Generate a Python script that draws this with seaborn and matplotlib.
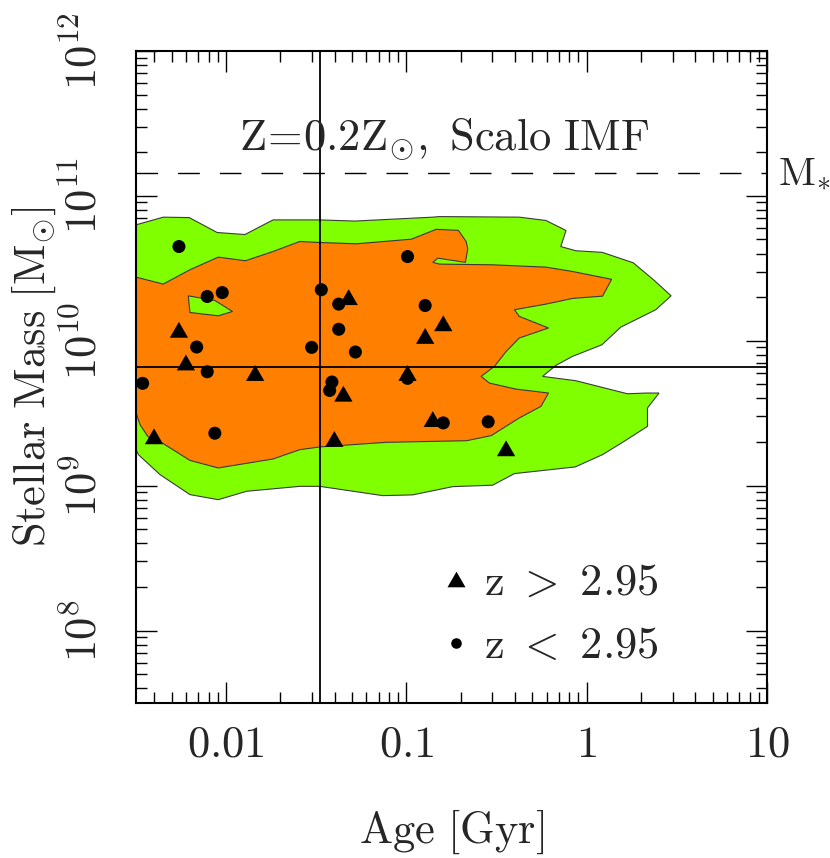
import numpy as np
import matplotlib.pyplot as plt
import seaborn as sns
from matplotlib.lines import Line2D
from matplotlib.ticker import NullFormatter

# galaxias con z > 2.95 (triangulos)
age_hiz = [0.0478, 0.160, 0.127, 0.00547, 0.00598, 0.01448, 0.1014, 0.0447, 0.140, 0.00398, 0.0398, 0.357]
mass_hiz = [2.0e10, 1.32e10, 1.08e10, 1.19e10, 7.08e9, 5.99e9, 5.99e9, 4.31e9, 2.88e9, 2.19e9, 2.10e9, 1.81e9]

# galaxias con z < 2.95 (circulos)
age_loz = [0.00547, 0.1014, 0.00785, 0.00951, 0.0337, 0.0421, 0.127, 0.0421, 0.00686, 0.0298,
           0.0521, 0.00785, 0.00344, 0.0386, 0.0375, 0.1014, 0.00865, 0.160, 0.284]
mass_loz = [4.47e10, 3.81e10, 2.02e10, 2.15e10, 2.25e10, 1.79e10, 1.75e10, 1.20e10, 9.05e9, 9.0e9,
            8.36e9, 6.11e9, 5.08e9, 5.19e9, 4.54e9, 5.5e9, 2.30e9, 2.71e9, 2.76e9]

# contorno exterior (verde), log10 de edad y masa
green_logage = [-2.5, -2.349, -2.205, -2.050, -1.896, -1.740, -1.481, -1.287, -0.854, -0.817,
                -0.374, -0.226, -0.115, -0.144, -0.060, 0.086, 0.258, 0.374, 0.468, 0.383,
                0.189, 0.084, -0.079, -0.171, -0.245, -0.060, 0.226, 0.328, 0.401, 0.337,
                0.337, 0.208, 0.088, -0.064, -0.401, -0.522, -0.743, -0.966, -1.132, -1.481,
                -1.592, -1.887, -2.044, -2.201, -2.367, -2.487, -2.5]
green_logmass = [10.800, 10.853, 10.850, 10.747, 10.733, 10.834, 10.834, 10.826, 10.853, 10.857,
                 10.853, 10.830, 10.761, 10.650, 10.621, 10.610, 10.538, 10.417, 10.310, 10.214,
                 10.094, 9.972, 9.892, 9.830, 9.754, 9.724, 9.634, 9.639, 9.639, 9.536,
                 9.409, 9.306, 9.214, 9.129, 9.083, 9.003, 8.993, 8.936, 8.931, 8.995,
                 8.995, 8.961, 8.903, 8.938, 9.076, 9.214, 9.248]

# contorno interior (naranja)
orange_logage = [-2.5, -2.349, -2.201, -2.044, -1.893, -1.740, -1.592, -1.481, -1.278, -0.973,
                 -0.835, -0.712, -0.669, -0.660, -0.673, -0.826, -0.854, -0.817, -0.522, -0.226,
                 -0.079, 0.138, 0.088, -0.079, -0.226, -0.401, -0.374, -0.212, -0.374, -0.447,
                 -0.512, -0.586, -0.540, -0.396, -0.212, -0.254, -0.374, -0.530, -0.666, -1.112,
                 -1.481, -1.592, -1.740, -2.044, -2.201, -2.349, -2.434, -2.478, -2.5]
orange_logmass = [10.439, 10.391, 10.490, 10.577, 10.552, 10.616, 10.685, 10.678, 10.669, 10.701,
                  10.769, 10.762, 10.685, 10.634, 10.541, 10.570, 10.541, 10.529, 10.524, 10.508,
                  10.478, 10.424, 10.308, 10.292, 10.253, 10.214, 10.168, 10.088, 10.019, 9.926,
                  9.823, 9.754, 9.708, 9.667, 9.639, 9.547, 9.467, 9.345, 9.310, 9.299,
                  9.267, 9.248, 9.184, 9.122, 9.174, 9.290, 9.338, 9.421, 9.503]

# isla verde dentro del naranja
island_logage = [-2.210, -2.063, -1.965, -2.044, -2.201]
island_logmass = [10.310, 10.278, 10.202, 10.172, 10.195]

age_cut = 0.0332
mass_cut = 6.6e9
m_star = 1.44e11

x_ticks = [0.01, 0.1, 1, 10]
x_labels = [r"$0.01$", r"$0.1$", r"$1$", r"$10$"]
y_ticks = [1e8, 1e9, 1e10, 1e11, 1e12]
y_labels = [r"$10^{8}$", r"$10^{9}$", r"$10^{10}$", r"$10^{11}$", r"$10^{12}$"]

sns.set_style("ticks")
plt.rcParams["mathtext.fontset"] = "cm"
plt.rcParams["font.family"] = ["DejaVu Serif"]

fig = plt.figure(figsize=(8.3, 8.58), dpi=100)
ax = fig.add_axes([0.1639, 0.1807, 0.7602, 0.7599])
ax.set_xscale("log")
ax.set_yscale("log")

ax.fill(10 ** np.array(green_logage), 10 ** np.array(green_logmass),
        facecolor="#7fff00", edgecolor="#3a3a3a", linewidth=0.8, zorder=1)
ax.fill(10 ** np.array(orange_logage), 10 ** np.array(orange_logmass),
        facecolor="#ff7f00", edgecolor="#3a3a3a", linewidth=0.8, zorder=1.5)
ax.fill(10 ** np.array(island_logage), 10 ** np.array(island_logmass),
        facecolor="#7fff00", edgecolor="#3a3a3a", linewidth=0.8, zorder=1.6)

ax.axvline(age_cut, color="black", linewidth=1.3, zorder=2)
ax.axhline(mass_cut, color="black", linewidth=1.3, zorder=2)
ax.axhline(m_star, color="black", linewidth=1.0, dashes=(15.6, 14.4), zorder=2)

tri = [(0, 0.433), (-0.5, -0.433), (0.5, -0.433)]
sns.scatterplot(x=age_hiz, y=mass_hiz, marker=tri, s=174, color="black",
                edgecolor="none", linewidth=0, ax=ax, zorder=4)
sns.scatterplot(x=age_loz, y=mass_loz, marker="o", s=88, color="black",
                edgecolor="none", linewidth=0, ax=ax, zorder=4)

ax.set_xlim(10 ** -2.5, 10)
ax.set_ylim(10 ** 7.5, 1e12)
ax.set_xticks(x_ticks, x_labels)
ax.set_yticks(y_ticks, y_labels, rotation=90, va="center")
ax.xaxis.set_minor_formatter(NullFormatter())
ax.yaxis.set_minor_formatter(NullFormatter())
ax.tick_params(which="major", direction="in", length=15, width=1.0,
               top=True, right=True, labelsize=32, color="black")
ax.tick_params(axis="x", which="major", pad=14)
ax.tick_params(axis="y", which="major", pad=22)
ax.tick_params(which="minor", direction="in", length=7.7, width=1.0,
               top=True, right=True, color="black")
for s in ax.spines.values():
    s.set_linewidth(1.5)
    s.set_color("black")

ax.set_xlabel(r"$\mathrm{Age\ [Gyr]}$", fontsize=32, labelpad=30)
ax.set_ylabel(r"$\mathrm{Stellar\ Mass\ [M_{\odot}]}$", fontsize=32, labelpad=3)

ax.text(0.488, 0.848, r"$\mathrm{Z\!=\!0.2Z_{\odot},\ Scalo\ IMF}$", fontsize=32,
        ha="center", va="baseline", transform=ax.transAxes)
ax.text(1.018, m_star, r"$\mathrm{M}_{*}$", fontsize=29, ha="left", va="center",
        transform=ax.get_yaxis_transform(), clip_on=False)

handles = [Line2D([], [], marker=tri, color="black", linestyle="none", markersize=13, markeredgewidth=0),
           Line2D([], [], marker="o", color="black", linestyle="none", markersize=7.6, markeredgewidth=0)]
labels = [r"$\mathrm{z\ >\ 2.95}$", r"$\mathrm{z\ <\ 2.95}$"]
ax.legend(handles, labels, loc="center left", bbox_to_anchor=(0.496, 0.1365), frameon=False,
          fontsize=32, handlelength=0.33, handletextpad=0.45, labelspacing=0.45,
          borderpad=0, borderaxespad=0)

plt.savefig("out.png", dpi=100)
